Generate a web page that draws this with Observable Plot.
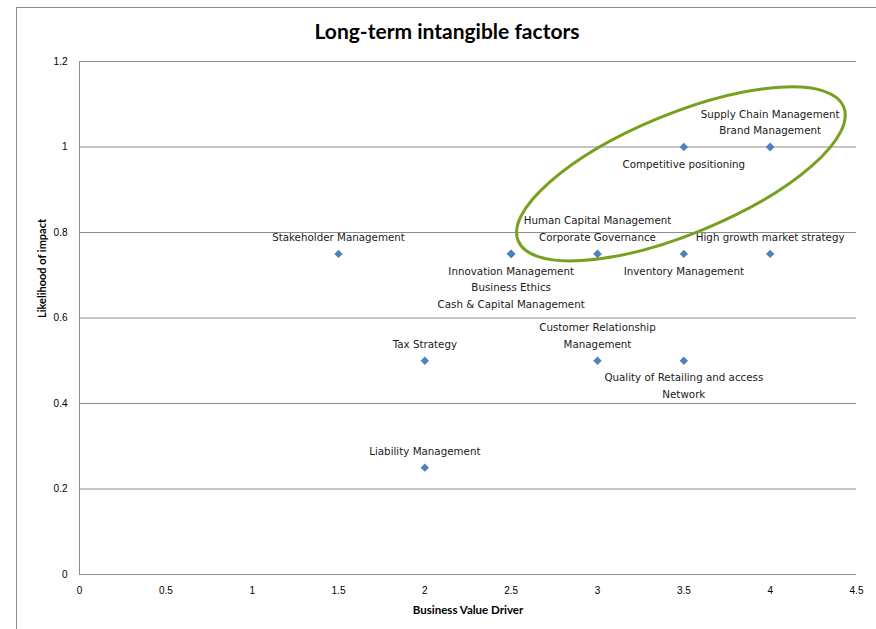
<!DOCTYPE html>
<html><head><meta charset="utf-8">
<script src="https://cdn.jsdelivr.net/npm/d3@7"></script>
<script src="https://cdn.jsdelivr.net/npm/@observablehq/plot@0.6"></script>
<style>
body{margin:0;background:#fff;}
#wrap{position:relative;width:876px;height:629px;overflow:hidden;background:#fff;}
#frame{position:absolute;left:16px;top:7px;width:900px;height:700px;border-left:1px solid #8c8c8c;border-top:1px solid #8c8c8c;}
#title{position:absolute;left:0;width:894px;top:18px;text-align:center;font:bold 21px Lato,sans-serif;color:#000;}
#chart{position:absolute;left:0;top:0;}
</style></head>
<body><div id="wrap"><div id="frame"></div><div id="chart"></div><div id="title">Long-term intangible factors</div></div>
<script>
// Data
const factors = [
  "Stakeholder Management",
  "Innovation Management",
  "Business Ethics",
  "Cash & Capital Management",
  "Human Capital Management",
  "Corporate Governance",
  "Inventory Management",
  "High growth market strategy",
  "Competitive positioning",
  "Supply Chain Management",
  "Brand Management",
  "Tax Strategy",
  "Customer Relationship\nManagement",
  "Quality of Retailing and access\nNetwork",
  "Liability Management"
];
const businessValueDriver = [1.5, 2.5, 2.5, 2.5, 3, 3, 3.5, 4, 3.5, 4, 4, 2, 3, 3.5, 2];
const likelihoodOfImpact  = [0.75, 0.75, 0.75, 0.75, 0.75, 0.75, 0.75, 0.75, 1, 1, 1, 0.5, 0.5, 0.5, 0.25];
const labelSide = ["above","below","below","below","above","above","below","above","below","above","above","above","above","below","above"];
const xTicks = [0, 0.5, 1, 1.5, 2, 2.5, 3, 3.5, 4, 4.5];
const yTicks = [0, 0.2, 0.4, 0.6, 0.8, 1, 1.2];
const xTitle = "Business Value Driver";
const yTitle = "Likelihood of impact";
// highlight ellipse (annotation), centre in data units
const highlight = {x: 3.486, y: 0.936};

const points = factors.map((name, i) => ({name, x: businessValueDriver[i], y: likelihoodOfImpact[i], side: labelSide[i]}));

// group labels sharing a position and side into stacked multi-line labels
const groups = d3.flatGroup(points, d => d.x, d => d.y, d => d.side)
  .map(([x, y, side, arr]) => ({x, y, side, text: arr.map(d => d.name).join("\n")}));

const labelFont = "DejaVu Sans, sans-serif";

const ellipseMark = (index, scales) => {
  const cx = scales.x(highlight.x), cy = scales.y(highlight.y);
  const e = document.createElementNS("http://www.w3.org/2000/svg", "ellipse");
  e.setAttribute("cx", cx); e.setAttribute("cy", cy);
  e.setAttribute("rx", 176); e.setAttribute("ry", 60);
  e.setAttribute("transform", `rotate(-22.4 ${cx} ${cy})`);
  e.setAttribute("fill", "none");
  e.setAttribute("stroke", "#76A01E");
  e.setAttribute("stroke-width", 3);
  return e;
};

const chart = Plot.plot({
  width: 876,
  height: 629,
  marginLeft: 79,
  marginRight: 20,
  marginTop: 61,
  marginBottom: 55,
  style: {background: "transparent", fontFamily: "Liberation Sans Narrow, Liberation Sans, sans-serif", fontSize: "10px", color: "#000"},
  x: {domain: [0, 4.5], ticks: xTicks, tickSize: 0, tickPadding: 12, label: null, tickFormat: d => String(d)},
  y: {domain: [0, 1.2], ticks: yTicks, tickSize: 0, tickPadding: 12, label: null, tickFormat: d => String(d)},
  marks: [
    Plot.ruleY(yTicks, {stroke: "#8c8c8c", strokeWidth: 1, strokeOpacity: 1}),
    Plot.ruleX([0], {stroke: "#8c8c8c", strokeWidth: 1}),
    Plot.axisX({ticks: xTicks, tickSize: 0, tickPadding: 12, tickFormat: d => String(d), fontSize: 10}),
    Plot.axisY({ticks: yTicks, tickSize: 0, tickPadding: 12, tickFormat: d => String(d), fontSize: 10}),
    Plot.dot(points, {x: "x", y: "y", symbol: "diamond2", r: 3.8, fill: "#4F81BD", stroke: "none"}),
    Plot.text(groups.filter(d => d.side === "above"), {x: "x", y: "y", text: "text", lineAnchor: "bottom", dy: -13, lineHeight: 1.6, fontSize: 10.3, fontFamily: labelFont, fill: "#1a1a1a"}),
    Plot.text(groups.filter(d => d.side === "below"), {x: "x", y: "y", text: "text", lineAnchor: "top", dy: 9, lineHeight: 1.6, fontSize: 10.3, fontFamily: labelFont, fill: "#1a1a1a"}),
    ellipseMark,
    Plot.text([xTitle], {frameAnchor: "bottom", dy: 39, text: d => d, fontSize: 11.5, fontWeight: "bold", fontFamily: "Lato, sans-serif", fill: "#000"}),
    Plot.text([yTitle], {frameAnchor: "left", dx: -37, rotate: -90, text: d => d, fontSize: 11, fontWeight: "bold", fontFamily: "Lato, sans-serif", fill: "#000"})
  ]
});
document.getElementById("chart").appendChild(chart);
</script>
</body></html>
